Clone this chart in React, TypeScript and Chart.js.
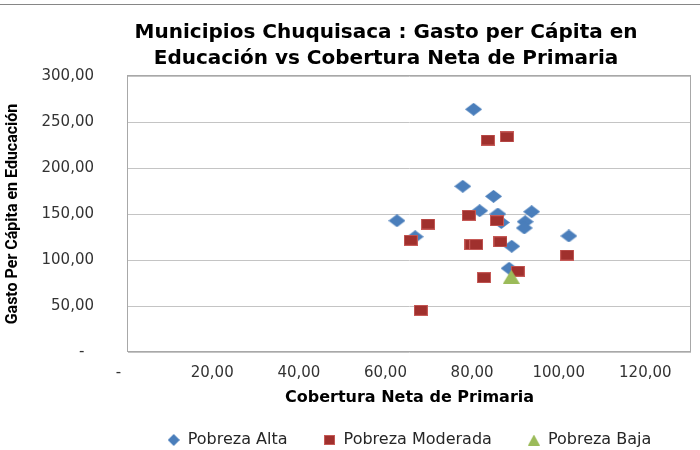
import React, { useEffect, useRef } from 'react';
import { Chart, registerables } from 'chart.js';

Chart.register(...registerables);

const titleLines = ['Municipios Chuquisaca : Gasto per Cápita en', 'Educación vs Cobertura Neta de Primaria'];
const xAxisTitle = 'Cobertura Neta de Primaria';
const yAxisTitle = 'Gasto Per Cápita en Educación';
const seriesNames = ['Pobreza Alta', 'Pobreza Moderada', 'Pobreza Baja'];

const altaX = [79.8, 77.3, 84.4, 81.2, 62.1, 66.3, 85.4, 86.2, 93.2, 91.7, 91.5, 88.6, 101.8, 88.0];
const altaY = [263.8, 180.1, 169.2, 153.6, 142.7, 125.3, 150.0, 140.8, 152.5, 141.6, 134.8, 114.9, 126.1, 91.0];

const moderadaX = [83.1, 87.5, 69.3, 65.3, 78.7, 85.2, 79.3, 80.4, 86.0, 82.2, 90.0, 101.4, 67.6];
const moderadaY = [230.4, 233.7, 139.1, 121.4, 148.6, 142.7, 116.8, 116.8, 119.8, 80.8, 87.8, 105.4, 45.3];

const bajaX = [88.5];
const bajaY = [81.8];

const xTicks = [0, 20, 40, 60, 80, 100, 120];
const yTicks = [0, 50, 100, 150, 200, 250, 300];

const fmt = (v: number) => v.toFixed(2).replace('.', ',');

function makeMarker(kind: string, w: number, h: number, fill: string, stroke?: string) {
  const c = document.createElement('canvas');
  c.width = w;
  c.height = h;
  const g = c.getContext('2d') as CanvasRenderingContext2D;
  g.fillStyle = fill;
  g.beginPath();
  if (kind === 'diamond') {
    g.moveTo(w / 2, 0);
    g.lineTo(w, h / 2);
    g.lineTo(w / 2, h);
    g.lineTo(0, h / 2);
    g.closePath();
    g.fill();
  } else if (kind === 'square') {
    g.fillStyle = stroke || fill;
    g.fillRect(0, 0, w, h);
    g.fillStyle = fill;
    g.fillRect(1, 1, w - 2, h - 2);
  } else {
    g.moveTo(w / 2, 0);
    g.lineTo(w, h);
    g.lineTo(0, h);
    g.closePath();
    g.fill();
  }
  return c;
}

export default function App() {
  const ref = useRef<HTMLCanvasElement>(null);

  useEffect(() => {
    document.body.style.margin = '0';
    const canvas = ref.current;
    if (!canvas) return;

    const blue = '#4A7EBB';
    const redFill = '#A0302D';
    const redStroke = '#C65A57';
    const green = '#9BBB59';

    const pointImgs = [
      makeMarker('diamond', 17, 13, blue),
      makeMarker('square', 14, 11, redFill, redStroke),
      makeMarker('triangle', 17, 14, green),
    ];
    const legendImgs = [
      makeMarker('diamond', 12, 12, blue),
      makeMarker('square', 11, 10, redFill, redStroke),
      makeMarker('triangle', 12, 11, green),
    ];

    const toPts = (xs: number[], ys: number[]) => xs.map((x, i) => ({ x, y: ys[i] }));

    const decor = {
      id: 'decor',
      beforeDatasetsDraw(chart: any) {
        const { ctx, chartArea: a } = chart;
        ctx.save();
        ctx.strokeStyle = '#A8A8A8';
        ctx.lineWidth = 1;
        ctx.strokeRect(Math.round(a.left) - 0.5, Math.round(a.top) - 0.5, Math.round(a.right - a.left), Math.round(a.bottom - a.top));
        ctx.restore();
      },
      afterDraw(chart: any) {
        const { ctx } = chart;
        ctx.save();
        ctx.strokeStyle = '#868686';
        ctx.lineWidth = 1;
        ctx.beginPath();
        ctx.moveTo(0, 4.5);
        ctx.lineTo(700, 4.5);
        ctx.stroke();
        ctx.fillStyle = '#000000';
        ctx.font = 'bold 20px "DejaVu Sans"';
        ctx.textAlign = 'center';
        ctx.textBaseline = 'middle';
        ctx.fillText(titleLines[0], 386, 33);
        ctx.fillText(titleLines[1], 386, 59);
        ctx.restore();
      },
    };

    const chart = new Chart(canvas, {
      type: 'scatter',
      data: {
        datasets: [
          { label: seriesNames[0], data: toPts(altaX, altaY), pointStyle: pointImgs[0] as any, pointRadius: 8, backgroundColor: blue, borderColor: blue, order: 3 },
          { label: seriesNames[1], data: toPts(moderadaX, moderadaY), pointStyle: pointImgs[1] as any, pointRadius: 8, backgroundColor: redFill, borderColor: redStroke, order: 2 },
          { label: seriesNames[2], data: toPts(bajaX, bajaY), pointStyle: pointImgs[2] as any, pointRadius: 8, backgroundColor: green, borderColor: green, order: 1 },
        ],
      },
      options: {
        responsive: false,
        animation: false,
        layout: { padding: { top: 76, right: 7, bottom: 0, left: 0 } },
        plugins: {
          title: { display: false },
          tooltip: { enabled: false },
          legend: {
            position: 'bottom',
            fullSize: false,
            maxHeight: 54,
            labels: {
              usePointStyle: true,
              pointStyleWidth: 12,
              padding: 36,
              color: '#262626',
              font: { family: '"DejaVu Sans"', size: 16 },
              sort: (a: any, b: any) => a.datasetIndex - b.datasetIndex,
              generateLabels: (ch: any) => {
                const items = Chart.defaults.plugins.legend.labels.generateLabels(ch);
                return items.map((it: any) => ({ ...it, pointStyle: legendImgs[it.datasetIndex] }));
              },
            },
          },
        },
        scales: {
          x: {
            type: 'linear',
            min: 0,
            max: 130,
            afterBuildTicks: (scale: any) => {
              scale.ticks = xTicks.map((v) => ({ value: v }));
            },
            afterFit: (scale: any) => {
              scale.height = 44;
            },
            grid: { display: false, drawTicks: false },
            border: { display: false },
            ticks: {
              autoSkip: false,
              maxRotation: 0,
              padding: 12,
              color: '#333333',
              font: { family: '"DejaVu Sans"', size: 15 },
              callback: (v: any) => (Number(v) === 0 ? '-    ' : fmt(Number(v)) + ' '),
            },
            title: {
              display: true,
              text: xAxisTitle,
              color: '#000000',
              font: { family: '"DejaVu Sans"', size: 16, weight: 'bold' },
              padding: { top: 0, bottom: -11 },
            },
          },
          y: {
            type: 'linear',
            min: 0,
            max: 300,
            afterBuildTicks: (scale: any) => {
              scale.ticks = yTicks.map((v) => ({ value: v }));
            },
            afterFit: (scale: any) => {
              scale.width = 128;
            },
            grid: { color: '#C4C4C4', drawTicks: false },
            border: { display: false },
            ticks: {
              autoSkip: false,
              padding: 34,
              color: '#333333',
              font: { family: '"DejaVu Sans"', size: 15 },
              callback: (v: any) => (Number(v) === 0 ? '-  ' : fmt(Number(v))),
            },
            title: {
              display: true,
              text: yAxisTitle,
              color: '#000000',
              font: { family: 'Roboto', size: 16, weight: 'bold' },
              padding: { top: 3, bottom: 0 },
            },
          },
        },
      },
      plugins: [decor],
    });

    return () => chart.destroy();
  }, []);

  return (
    <div style={{ width: 700, height: 450 }}>
      <canvas ref={ref} width={700} height={450} />
    </div>
  );
}
